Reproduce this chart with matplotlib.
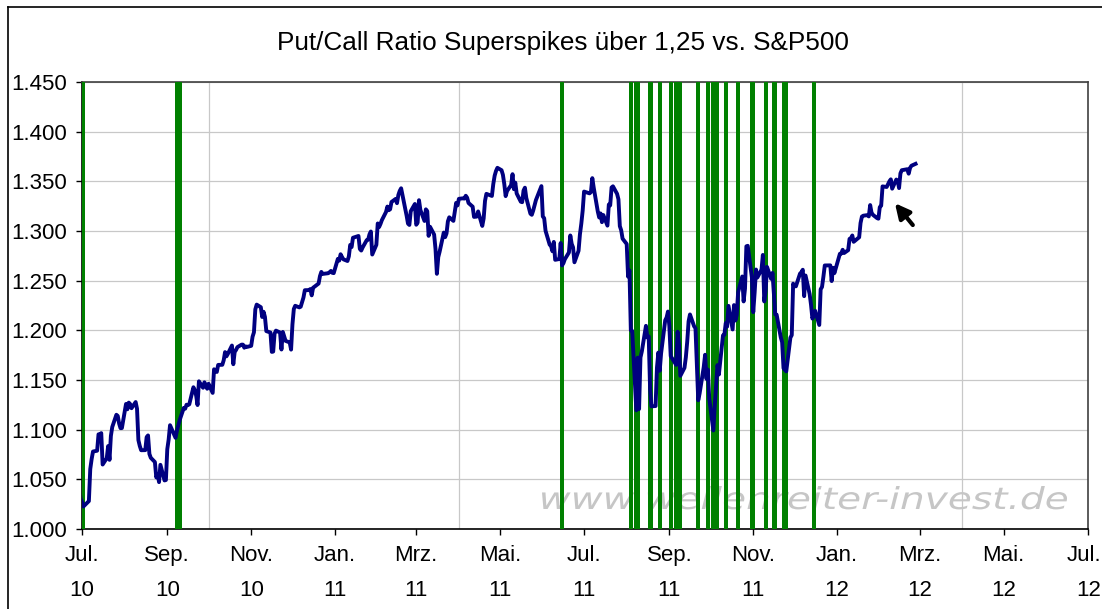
import matplotlib
matplotlib.use("Agg")
import matplotlib.pyplot as plt
import matplotlib.dates as mdates
from matplotlib.lines import Line2D
from matplotlib.patches import PathPatch
from matplotlib.textpath import TextPath
from matplotlib.font_manager import FontProperties
from matplotlib.transforms import Affine2D, ScaledTranslation
from matplotlib.ticker import FixedLocator, FuncFormatter, MultipleLocator
import pandas as pd

# S&P500 daily closes
sp500_2010 = [
    ("2010-06-29", 1041.2), ("2010-06-30", 1030.7),
    ("2010-07-01", 1027.4), ("2010-07-02", 1022.6), ("2010-07-06", 1028.1), ("2010-07-07", 1060.3),
    ("2010-07-08", 1070.3), ("2010-07-09", 1078.0), ("2010-07-12", 1078.8), ("2010-07-13", 1095.3),
    ("2010-07-14", 1095.2), ("2010-07-15", 1096.5), ("2010-07-16", 1064.9), ("2010-07-19", 1071.3),
    ("2010-07-20", 1083.5), ("2010-07-21", 1069.6), ("2010-07-22", 1093.7), ("2010-07-23", 1102.7),
    ("2010-07-26", 1115.0), ("2010-07-27", 1113.8), ("2010-07-28", 1106.1), ("2010-07-29", 1101.5),
    ("2010-07-30", 1101.6), ("2010-08-02", 1125.9), ("2010-08-03", 1120.5), ("2010-08-04", 1127.2),
    ("2010-08-05", 1125.8), ("2010-08-06", 1121.6), ("2010-08-09", 1127.8), ("2010-08-10", 1121.1),
    ("2010-08-11", 1089.5), ("2010-08-12", 1083.6), ("2010-08-13", 1079.3), ("2010-08-16", 1079.4),
    ("2010-08-17", 1092.5), ("2010-08-18", 1094.2), ("2010-08-19", 1075.6), ("2010-08-20", 1071.7),
    ("2010-08-23", 1067.4), ("2010-08-24", 1051.9), ("2010-08-25", 1055.3), ("2010-08-26", 1047.2),
    ("2010-08-27", 1064.6), ("2010-08-30", 1048.9), ("2010-08-31", 1049.3), ("2010-09-01", 1080.3),
    ("2010-09-02", 1090.1), ("2010-09-03", 1104.5), ("2010-09-07", 1091.8), ("2010-09-08", 1098.9),
    ("2010-09-09", 1104.2), ("2010-09-10", 1109.6), ("2010-09-13", 1121.9), ("2010-09-14", 1121.1),
    ("2010-09-15", 1125.1), ("2010-09-16", 1124.7), ("2010-09-17", 1125.6), ("2010-09-20", 1142.7),
    ("2010-09-21", 1139.8), ("2010-09-22", 1134.3), ("2010-09-23", 1124.8), ("2010-09-24", 1148.7),
    ("2010-09-27", 1142.2), ("2010-09-28", 1147.7), ("2010-09-29", 1144.7), ("2010-09-30", 1141.2),
    ("2010-10-01", 1146.2), ("2010-10-04", 1137.0), ("2010-10-05", 1160.8), ("2010-10-06", 1160.0),
    ("2010-10-07", 1158.1), ("2010-10-08", 1165.2), ("2010-10-11", 1165.3), ("2010-10-12", 1169.8),
    ("2010-10-13", 1178.1), ("2010-10-14", 1173.8), ("2010-10-15", 1176.2), ("2010-10-18", 1184.7),
    ("2010-10-19", 1165.9), ("2010-10-20", 1178.2), ("2010-10-21", 1180.3), ("2010-10-22", 1183.1),
    ("2010-10-25", 1185.6), ("2010-10-26", 1185.6), ("2010-10-27", 1182.5), ("2010-10-28", 1183.8),
    ("2010-10-29", 1183.3), ("2010-11-01", 1184.4), ("2010-11-02", 1193.6), ("2010-11-03", 1198.0),
    ("2010-11-04", 1221.1), ("2010-11-05", 1225.9), ("2010-11-08", 1223.3), ("2010-11-09", 1213.4),
    ("2010-11-10", 1218.7), ("2010-11-11", 1213.5), ("2010-11-12", 1199.2), ("2010-11-15", 1197.8),
    ("2010-11-16", 1178.3), ("2010-11-17", 1178.6), ("2010-11-18", 1196.7), ("2010-11-19", 1199.7),
    ("2010-11-22", 1197.8), ("2010-11-23", 1180.7), ("2010-11-24", 1198.4), ("2010-11-26", 1189.4),
    ("2010-11-29", 1187.8), ("2010-11-30", 1180.6), ("2010-12-01", 1206.1), ("2010-12-02", 1221.5),
    ("2010-12-03", 1224.7), ("2010-12-06", 1223.1), ("2010-12-07", 1223.8), ("2010-12-08", 1228.3),
    ("2010-12-09", 1233.0), ("2010-12-10", 1240.4), ("2010-12-13", 1240.5), ("2010-12-14", 1241.6),
    ("2010-12-15", 1235.2), ("2010-12-16", 1242.9), ("2010-12-17", 1243.9), ("2010-12-20", 1247.1),
    ("2010-12-21", 1254.6), ("2010-12-22", 1258.8), ("2010-12-23", 1256.8), ("2010-12-27", 1257.5),
    ("2010-12-28", 1258.5), ("2010-12-29", 1259.8), ("2010-12-30", 1257.9), ("2010-12-31", 1257.6),
]

sp500_2011 = [
    ("2011-01-03", 1271.9), ("2011-01-04", 1270.2), ("2011-01-05", 1276.6), ("2011-01-06", 1273.9),
    ("2011-01-07", 1271.5), ("2011-01-10", 1269.8), ("2011-01-11", 1274.5), ("2011-01-12", 1286.0),
    ("2011-01-13", 1283.8), ("2011-01-14", 1293.2), ("2011-01-18", 1295.0), ("2011-01-19", 1281.9),
    ("2011-01-20", 1280.3), ("2011-01-21", 1283.4), ("2011-01-24", 1290.8), ("2011-01-25", 1291.2),
    ("2011-01-26", 1296.6), ("2011-01-27", 1299.5), ("2011-01-28", 1276.3), ("2011-01-31", 1286.1),
    ("2011-02-01", 1307.6), ("2011-02-02", 1304.0), ("2011-02-03", 1307.1), ("2011-02-04", 1310.9),
    ("2011-02-07", 1319.1), ("2011-02-08", 1324.6), ("2011-02-09", 1320.9), ("2011-02-10", 1321.9),
    ("2011-02-11", 1329.2), ("2011-02-14", 1332.3), ("2011-02-15", 1328.0), ("2011-02-16", 1336.3),
    ("2011-02-17", 1340.4), ("2011-02-18", 1343.0), ("2011-02-22", 1315.4), ("2011-02-23", 1307.4),
    ("2011-02-24", 1306.1), ("2011-02-25", 1319.9), ("2011-02-28", 1327.2), ("2011-03-01", 1306.3),
    ("2011-03-02", 1308.4), ("2011-03-03", 1331.0), ("2011-03-04", 1321.2), ("2011-03-07", 1310.1),
    ("2011-03-08", 1321.8), ("2011-03-09", 1320.0), ("2011-03-10", 1295.1), ("2011-03-11", 1304.3),
    ("2011-03-14", 1296.4), ("2011-03-15", 1281.9), ("2011-03-16", 1256.9), ("2011-03-17", 1273.7),
    ("2011-03-18", 1279.2), ("2011-03-21", 1298.4), ("2011-03-22", 1293.8), ("2011-03-23", 1297.5),
    ("2011-03-24", 1309.7), ("2011-03-25", 1313.8), ("2011-03-28", 1310.2), ("2011-03-29", 1319.4),
    ("2011-03-30", 1328.3), ("2011-03-31", 1325.8), ("2011-04-01", 1332.4), ("2011-04-04", 1332.9),
    ("2011-04-05", 1332.6), ("2011-04-06", 1335.5), ("2011-04-07", 1333.5), ("2011-04-08", 1328.2),
    ("2011-04-11", 1324.5), ("2011-04-12", 1314.2), ("2011-04-13", 1314.4), ("2011-04-14", 1314.5),
    ("2011-04-15", 1319.7), ("2011-04-18", 1305.1), ("2011-04-19", 1312.6), ("2011-04-20", 1330.4),
    ("2011-04-21", 1337.4), ("2011-04-25", 1335.3), ("2011-04-26", 1347.2), ("2011-04-27", 1355.7),
    ("2011-04-28", 1360.5), ("2011-04-29", 1363.6), ("2011-05-02", 1361.2), ("2011-05-03", 1356.6),
    ("2011-05-04", 1347.3), ("2011-05-05", 1335.1), ("2011-05-06", 1340.2), ("2011-05-09", 1346.3),
    ("2011-05-10", 1357.2), ("2011-05-11", 1342.1), ("2011-05-12", 1348.7), ("2011-05-13", 1337.8),
    ("2011-05-16", 1329.5), ("2011-05-17", 1329.0), ("2011-05-18", 1340.7), ("2011-05-19", 1343.6),
    ("2011-05-20", 1333.3), ("2011-05-23", 1317.4), ("2011-05-24", 1316.3), ("2011-05-25", 1320.5),
    ("2011-05-26", 1325.7), ("2011-05-27", 1331.1), ("2011-05-31", 1345.2), ("2011-06-01", 1314.6),
    ("2011-06-02", 1312.9), ("2011-06-03", 1300.2), ("2011-06-06", 1286.2), ("2011-06-07", 1284.9),
    ("2011-06-08", 1279.6), ("2011-06-09", 1289.0), ("2011-06-10", 1271.0), ("2011-06-13", 1271.8),
    ("2011-06-14", 1287.9), ("2011-06-15", 1265.4), ("2011-06-16", 1267.6), ("2011-06-17", 1271.5),
    ("2011-06-20", 1278.4), ("2011-06-21", 1295.5), ("2011-06-22", 1287.1), ("2011-06-23", 1283.5),
    ("2011-06-24", 1268.5), ("2011-06-27", 1280.1), ("2011-06-28", 1296.7), ("2011-06-29", 1307.4),
    ("2011-06-30", 1320.6), ("2011-07-01", 1339.7), ("2011-07-05", 1337.9), ("2011-07-06", 1339.2),
    ("2011-07-07", 1353.2), ("2011-07-08", 1343.8), ("2011-07-11", 1319.5), ("2011-07-12", 1313.6),
    ("2011-07-13", 1317.7), ("2011-07-14", 1308.9), ("2011-07-15", 1316.1), ("2011-07-18", 1305.4),
    ("2011-07-19", 1326.7), ("2011-07-20", 1325.8), ("2011-07-21", 1343.8), ("2011-07-22", 1345.0),
    ("2011-07-25", 1337.4), ("2011-07-26", 1331.9), ("2011-07-27", 1304.9), ("2011-07-28", 1300.7),
    ("2011-07-29", 1292.3), ("2011-08-01", 1286.9), ("2011-08-02", 1254.1), ("2011-08-03", 1260.3),
    ("2011-08-04", 1200.1), ("2011-08-05", 1199.4), ("2011-08-08", 1119.5), ("2011-08-09", 1172.5),
    ("2011-08-10", 1120.8), ("2011-08-11", 1172.6), ("2011-08-12", 1178.8), ("2011-08-15", 1204.5),
    ("2011-08-16", 1192.8), ("2011-08-17", 1193.9), ("2011-08-18", 1140.7), ("2011-08-19", 1123.5),
    ("2011-08-22", 1123.8), ("2011-08-23", 1162.4), ("2011-08-24", 1177.6), ("2011-08-25", 1159.3),
    ("2011-08-26", 1176.8), ("2011-08-29", 1210.1), ("2011-08-30", 1212.9), ("2011-08-31", 1218.9),
    ("2011-09-01", 1204.4), ("2011-09-02", 1174.0), ("2011-09-06", 1165.2), ("2011-09-07", 1198.6),
    ("2011-09-08", 1185.9), ("2011-09-09", 1154.2), ("2011-09-12", 1162.3), ("2011-09-13", 1172.9),
    ("2011-09-14", 1188.7), ("2011-09-15", 1209.1), ("2011-09-16", 1216.0), ("2011-09-19", 1204.1),
    ("2011-09-20", 1202.1), ("2011-09-21", 1166.8), ("2011-09-22", 1129.6), ("2011-09-23", 1136.4),
    ("2011-09-26", 1163.0), ("2011-09-27", 1175.4), ("2011-09-28", 1151.1), ("2011-09-29", 1160.4),
    ("2011-09-30", 1131.4), ("2011-10-03", 1099.2), ("2011-10-04", 1124.0), ("2011-10-05", 1144.0),
    ("2011-10-06", 1165.0), ("2011-10-07", 1155.5), ("2011-10-10", 1194.9), ("2011-10-11", 1195.5),
    ("2011-10-12", 1207.3), ("2011-10-13", 1203.7), ("2011-10-14", 1224.6), ("2011-10-17", 1200.9),
    ("2011-10-18", 1225.4), ("2011-10-19", 1209.9), ("2011-10-20", 1215.4), ("2011-10-21", 1238.3),
    ("2011-10-24", 1254.2), ("2011-10-25", 1229.1), ("2011-10-26", 1242.0), ("2011-10-27", 1284.6),
    ("2011-10-28", 1285.1), ("2011-10-31", 1253.3), ("2011-11-01", 1218.3), ("2011-11-02", 1237.9),
    ("2011-11-03", 1261.2), ("2011-11-04", 1253.2), ("2011-11-07", 1261.1), ("2011-11-08", 1275.9),
    ("2011-11-09", 1229.1), ("2011-11-10", 1239.7), ("2011-11-11", 1263.9), ("2011-11-14", 1251.8),
    ("2011-11-15", 1257.8), ("2011-11-16", 1236.9), ("2011-11-17", 1216.1), ("2011-11-18", 1215.7),
    ("2011-11-21", 1193.0), ("2011-11-22", 1188.0), ("2011-11-23", 1161.8), ("2011-11-25", 1158.7),
    ("2011-11-28", 1192.6), ("2011-11-29", 1195.2), ("2011-11-30", 1247.0), ("2011-12-01", 1244.6),
    ("2011-12-02", 1244.3), ("2011-12-05", 1257.1), ("2011-12-06", 1258.5), ("2011-12-07", 1261.0),
    ("2011-12-08", 1234.4), ("2011-12-09", 1255.2), ("2011-12-12", 1236.5), ("2011-12-13", 1225.7),
    ("2011-12-14", 1211.8), ("2011-12-15", 1215.8), ("2011-12-16", 1219.7), ("2011-12-19", 1205.4),
    ("2011-12-20", 1241.3), ("2011-12-21", 1243.7), ("2011-12-22", 1254.0), ("2011-12-23", 1265.3),
    ("2011-12-27", 1265.4), ("2011-12-28", 1249.6), ("2011-12-29", 1263.0), ("2011-12-30", 1257.6),
]

sp500_2012 = [
    ("2012-01-03", 1277.1), ("2012-01-04", 1277.3), ("2012-01-05", 1281.1), ("2012-01-06", 1277.8),
    ("2012-01-09", 1280.7), ("2012-01-10", 1292.1), ("2012-01-11", 1292.5), ("2012-01-12", 1295.5),
    ("2012-01-13", 1289.1), ("2012-01-17", 1293.7), ("2012-01-18", 1308.0), ("2012-01-19", 1314.5),
    ("2012-01-20", 1315.4), ("2012-01-23", 1316.0), ("2012-01-24", 1314.7), ("2012-01-25", 1326.1),
    ("2012-01-26", 1318.4), ("2012-01-27", 1316.3), ("2012-01-30", 1313.0), ("2012-01-31", 1312.4),
    ("2012-02-01", 1324.1), ("2012-02-02", 1325.5), ("2012-02-03", 1344.9), ("2012-02-06", 1344.3),
    ("2012-02-07", 1347.1), ("2012-02-08", 1350.0), ("2012-02-09", 1352.0), ("2012-02-10", 1342.6),
    ("2012-02-13", 1351.8), ("2012-02-14", 1350.5), ("2012-02-15", 1343.2), ("2012-02-16", 1358.0),
    ("2012-02-17", 1361.2), ("2012-02-21", 1362.2), ("2012-02-22", 1357.7), ("2012-02-23", 1363.5),
    ("2012-02-24", 1365.7), ("2012-02-27", 1367.6),
]

# days with put/call ratio above 1.25
spike_days = [
    "2010-07-02", "2010-09-08", "2010-09-09", "2010-09-10", "2011-06-15",
    "2011-08-04", "2011-08-08", "2011-08-09", "2011-08-18", "2011-08-19",
    "2011-08-25", "2011-09-02", "2011-09-06", "2011-09-09", "2011-09-22",
    "2011-09-29", "2011-10-03", "2011-10-06", "2011-10-12", "2011-10-21",
    "2011-10-31", "2011-11-01", "2011-11-10", "2011-11-16", "2011-11-17",
    "2011-11-23", "2011-11-25", "2011-12-15",
]

tick_dates = pd.date_range("2010-07-01", "2012-07-01", freq="2MS")
grid_dates = pd.date_range("2010-10-01", "2012-04-01", freq="3MS")
month_names = {1: "Jan.", 3: "Mrz.", 5: "Mai.", 7: "Jul.", 9: "Sep.", 11: "Nov."}

title = "Put/Call Ratio Superspikes über 1,25 vs. S&P500"
watermark = "www.wellenreiter-invest.de"

plt.rcParams["font.family"] = ["Liberation Sans", "DejaVu Sans"]

sp = pd.DataFrame(sp500_2010 + sp500_2011 + sp500_2012, columns=["date", "close"])
sp["date"] = pd.to_datetime(sp["date"])
spikes = pd.to_datetime(spike_days)

W, H = 1102, 609
fig = plt.figure(figsize=(W / 100, H / 100), dpi=100)
ax = fig.add_axes([82 / W, 1 - 529 / H, (1087.5 - 82) / W, (529 - 82) / H])

y_lo, y_hi = 1000, 1450

# green spike bars
ax.bar(spikes, y_hi - y_lo, bottom=y_lo, width=2.9, color="#008000",
       linewidth=0, zorder=3)

ax.plot(sp["date"], sp["close"], color="#000080", lw=2.8, zorder=4,
        solid_joinstyle="round")

ax.set_xlim(pd.Timestamp("2010-07-01"), pd.Timestamp("2012-07-01"))
ax.set_ylim(y_lo, y_hi)

ax.xaxis.set_major_locator(FixedLocator(mdates.date2num(tick_dates)))
ax.set_xticklabels([f"{month_names[d.month]}\n{d.year % 100}" for d in tick_dates],
                   linespacing=1.85)
ax.xaxis.set_minor_locator(FixedLocator(mdates.date2num(grid_dates)))
ax.yaxis.set_major_locator(MultipleLocator(50))
ax.yaxis.set_major_formatter(FuncFormatter(lambda v, p: f"{v / 1000:.3f}"))

ax.grid(True, which="major", axis="y", color="#c8c8c8", lw=0.9, zorder=0)
ax.grid(True, which="minor", axis="x", color="#c8c8c8", lw=0.9, zorder=0)
ax.set_axisbelow(True)

ax.tick_params(axis="both", which="major", direction="out", length=4.5, width=1,
               color="black", labelsize=16)
ax.tick_params(axis="y", which="major", pad=6.5)
ax.tick_params(axis="x", which="major", pad=7)
ax.tick_params(axis="x", which="minor", length=0)

# keep the last month label inside the picture
last = ax.get_xticklabels()[-1]
last.set_horizontalalignment("right")
last.set_transform(last.get_transform() + ScaledTranslation(14 / 100, 0, fig.dpi_scale_trans))

for side in ["left", "bottom"]:
    ax.spines[side].set_color("black")
    ax.spines[side].set_linewidth(1.2)
for side in ["top", "right"]:
    ax.spines[side].set_color("#404040")
    ax.spines[side].set_linewidth(1.2)

# watermark, stretched to the width it has in the original
wm_path = TextPath((0, 0), watermark, size=30,
                   prop=FontProperties(family="DejaVu Sans", style="italic"))
ext = wm_path.get_extents()
wm_x0, wm_x1, wm_base, wm_top = 542, 1067, 509, 486
sx = (wm_x1 - wm_x0) / ext.width
sy = (wm_base - wm_top) / 30 / 0.76
wm_tr = (Affine2D().translate(-ext.x0, 0).scale(sx / W, sy / H)
         .translate(wm_x0 / W, 1 - wm_base / H) + fig.transFigure)
wm = PathPatch(wm_path, facecolor="#c6c6c6", edgecolor="none", transform=wm_tr, zorder=2)
ax.add_patch(wm)

# arrow pointing at the latest high
ax.annotate("", xy=(pd.Timestamp("2012-02-12"), 1328),
            xytext=(pd.Timestamp("2012-02-25"), 1306),
            arrowprops=dict(arrowstyle="-|>", color="black", lw=3, mutation_scale=22,
                            shrinkA=0, shrinkB=0), zorder=5)

fig.text(563 / W, 1 - 43 / H, title, ha="center", va="center", fontsize=18.8)

# chart border
fig.add_artist(Line2D([7.5 / W, 7.5 / W], [0, 1 - 6.5 / H], color="black", lw=1.2))
fig.add_artist(Line2D([7.5 / W, 1], [1 - 6.5 / H, 1 - 6.5 / H], color="black", lw=1.2))

fig.savefig("out.png", dpi=100)
